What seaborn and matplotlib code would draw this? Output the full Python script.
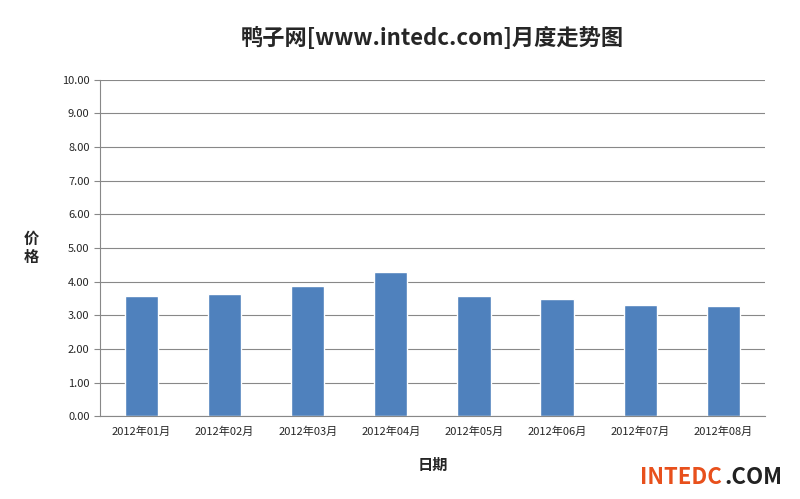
import matplotlib
matplotlib.use("Agg")
import matplotlib.pyplot as plt
import seaborn as sns
import pandas as pd

# 월별 가격 데이터
months = ["2012年01月", "2012年02月", "2012年03月", "2012年04月",
          "2012年05月", "2012年06月", "2012年07月", "2012年08月"]
prices = [3.58, 3.63, 3.87, 4.29, 3.57, 3.48, 3.31, 3.28]

sns.set_style("white")
plt.rcParams['font.family'] = ['Noto Sans CJK SC', 'DejaVu Sans']

data = pd.DataFrame({"日期": months, "价格": prices})

fig = plt.figure(figsize=(8, 4.99), dpi=100)
ax = fig.add_axes([0.125, 0.166, 0.831, 0.674])
sns.barplot(data=data, x="日期", y="价格", color="#4f81bd", width=0.4, ax=ax, saturation=1)

ax.set_ylim(0, 10)
ax.set_yticks([i for i in range(11)])
ax.set_yticklabels([f"{i:.2f}" for i in range(11)], fontsize=8)
ax.tick_params(axis='x', labelsize=8, length=4, color='#888888')
ax.tick_params(axis='y', length=4, color='#888888', left=True)
ax.grid(axis='y', color='#888888', linewidth=0.8)
ax.set_axisbelow(True)
for s in ['top', 'right']:
    ax.spines[s].set_visible(False)
for s in ['left', 'bottom']:
    ax.spines[s].set_color('#888888')

ax.set_xlabel("日期", fontsize=11, fontweight='bold', labelpad=14)
ax.set_ylabel("价\n格", fontsize=11, fontweight='bold', rotation=0, labelpad=22, va='center')
fig.text(0.54, 0.91, "鸭子网[www.intedc.com]月度走势图", fontsize=16, fontweight='bold', ha='center')

# 우측 하단 로고 텍스트
fig.text(0.8, 0.03, "INTEDC", fontsize=16, fontweight='bold', color='#e8501c')
fig.text(0.905, 0.03, ".COM", fontsize=16, fontweight='bold', color='#222222')

fig.savefig("out.png", dpi=100)
